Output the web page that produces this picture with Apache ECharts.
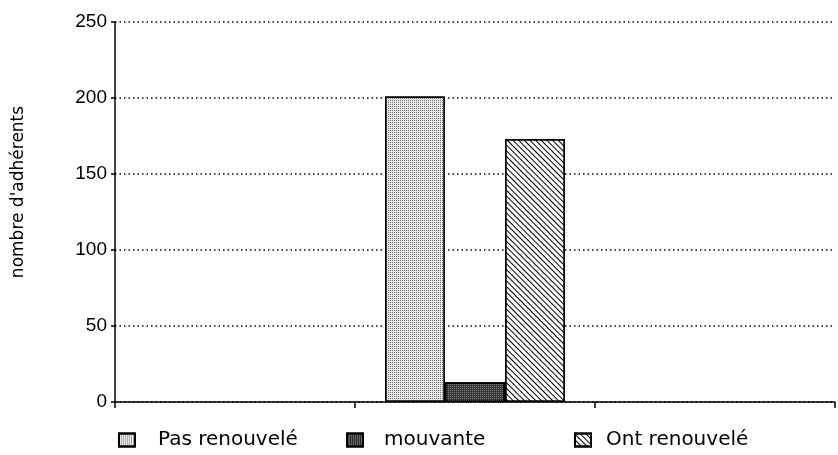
<!DOCTYPE html>
<html><head><meta charset="utf-8">
<script src="https://cdn.jsdelivr.net/npm/echarts@6/dist/echarts.min.js"></script>
<style>html,body{margin:0;padding:0;background:#fff}#c{width:838px;height:455px}</style>
</head><body><div id="c"></div>
<script>
const categories = ['', 'A', ''];
const seriesNames = ['Pas renouvelé', 'mouvante', 'Ont renouvelé'];
const pasRenouvele = [null, 201, null];
const mouvante = [null, 13, null];
const ontRenouvele = [null, 173, null];
const yTicks = [0, 50, 100, 150, 200, 250];

const font = 'Liberation Sans, Arial, sans-serif';
const wide = 'DejaVu Sans, sans-serif';
const chart = echarts.init(document.getElementById('c'));
const styles = [
  {color: '#e6e6e6', decal: {symbol: 'rect', symbolSize: 1, dashArrayX: [1, 1], dashArrayY: [1, 1], color: '#777'}},
  {color: '#333', decal: {symbol: 'rect', symbolSize: 1, dashArrayX: [1, 1], dashArrayY: [1, 1], color: '#888'}},
  {color: '#fff', decal: {symbol: 'rect', symbolSize: 1, dashArrayX: [1, 0], dashArrayY: [1, 2.6], rotation: Math.PI / 4, color: '#000'}}
];
const data = [pasRenouvele, mouvante, ontRenouvele];
const legendLeft = [118, 346, 574];
const legendPad = [18, 16, 10];
chart.setOption({
  animation: false,
  grid: {left: 115, right: 3, top: 22, bottom: 53},
  legend: seriesNames.map((n, i) => ({
    data: [{name: n, icon: 'rect'}], left: legendLeft[i], top: 430, padding: 0,
    itemWidth: 16, itemHeight: 13,
    textStyle: {fontFamily: wide, fontSize: 20, color: '#000', padding: [0, 0, 0, legendPad[i]]}
  })),
  xAxis: {
    type: 'category', data: categories,
    axisLine: {lineStyle: {color: '#000', width: 1.5}},
    axisTick: {show: true, length: 6, lineStyle: {color: '#000', width: 1.5}},
    axisLabel: {show: false}, splitLine: {show: false}
  },
  yAxis: {
    type: 'value', min: 0, max: 250, interval: 50,
    name: "nombre d'adhérents", nameLocation: 'middle', nameGap: 88,
    nameTextStyle: {fontFamily: wide, fontSize: 17, color: '#000', padding: [0, 0, 0, 40]},
    axisLine: {show: true, lineStyle: {color: '#000', width: 1.5}},
    axisTick: {show: true, length: 4, lineStyle: {color: '#000', width: 1.5}},
    axisLabel: {fontFamily: font, fontSize: 19, color: '#000', margin: 8,
      formatter: v => yTicks.includes(v) ? String(v) : ''},
    splitLine: {show: true, lineStyle: {color: '#000', type: [1.5, 3], width: 1.5}}
  },
  series: seriesNames.map((n, i) => ({
    name: n, type: 'bar', data: data[i], barWidth: 60, barGap: '0%',
    itemStyle: Object.assign({borderColor: '#000', borderWidth: 1.5}, styles[i])
  }))
});
</script></body></html>
